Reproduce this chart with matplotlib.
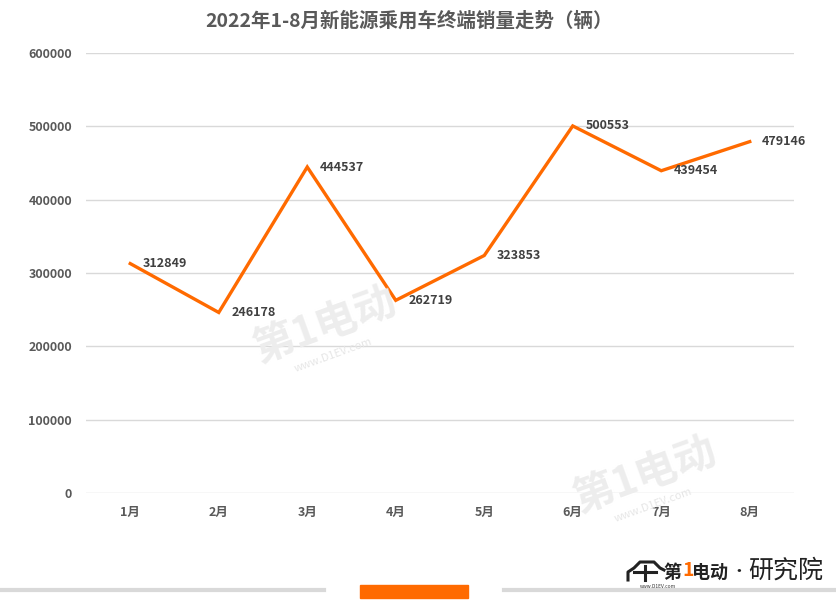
import matplotlib.pyplot as plt
from matplotlib.patches import Rectangle
from matplotlib.lines import Line2D

plt.rcParams["font.family"] = ["Noto Sans CJK SC", "DejaVu Sans"]

months = ["1月", "2月", "3月", "4月", "5月", "6月", "7月", "8月"]
sales = [312849, 246178, 444537, 262719, 323853, 500553, 439454, 479146]
y_ticks = [0, 100000, 200000, 300000, 400000, 500000, 600000]

TITLE = "2022年1-8月新能源乘用车终端销量走势（辆）"
ORANGE = "#FF6A00"
GRID = "#D9D9D9"
TICK_COLOR = "#595959"
LABEL_COLOR = "#404040"


def px(x, y):
    # pixel coords (top-left origin) -> figure fraction
    return x / 836, 1 - y / 604


def main():
    fig = plt.figure(figsize=(8.36, 6.04), dpi=100)
    ax = fig.add_axes([86 / 836, 111 / 604, 708 / 836, 440 / 604])

    x = list(range(len(months)))
    ax.plot(x, sales, color=ORANGE, linewidth=2.4, solid_joinstyle="miter", zorder=3)

    for i, value in enumerate(sales):
        ax.annotate(
            f"{value}",
            (i, value),
            xytext=(9, 0),
            textcoords="offset points",
            ha="left",
            va="center",
            fontsize=9,
            fontweight="bold",
            color=LABEL_COLOR,
            zorder=4,
        )

    ax.set_xlim(-0.5, len(months) - 0.5)
    ax.set_ylim(0, 600000)
    ax.set_yticks(y_ticks)
    ax.set_yticklabels([str(v) for v in y_ticks])
    ax.set_xticks(x)
    ax.set_xticklabels(months)
    ax.grid(axis="y", color=GRID, linewidth=1.0)
    ax.set_axisbelow(True)
    for spine in ax.spines.values():
        spine.set_visible(False)
    ax.tick_params(axis="both", length=0, labelsize=9, labelcolor=TICK_COLOR)
    ax.tick_params(axis="y", pad=10)
    ax.tick_params(axis="x", pad=9)
    for lbl in ax.get_xticklabels() + ax.get_yticklabels():
        lbl.set_fontweight("bold")

    fig.text(*px(409, 21), TITLE, ha="center", va="center",
             fontsize=14, fontweight="bold", color=TICK_COLOR)

    # faint watermarks
    for wx, wy in [(325, 325), (645, 475)]:
        fig.text(*px(wx, wy), "第1电动", ha="center", va="center", rotation=20,
                 fontsize=30, fontweight="bold", color="#EDEDED", zorder=0)
        fig.text(*px(wx + 8, wy + 30), "www.D1EV.com", ha="center", va="center",
                 rotation=20, fontsize=8, style="italic", color="#E6E6E6", zorder=0)

    # bottom decoration
    fig.add_artist(Line2D([0, 324 / 836], [1 - 590 / 604] * 2, color="#D9D9D9",
                          linewidth=3, transform=fig.transFigure))
    fig.add_artist(Line2D([504 / 836, 1], [1 - 590 / 604] * 2, color="#D9D9D9",
                          linewidth=3, transform=fig.transFigure))
    fig.add_artist(Rectangle(px(360, 598), 108 / 836, 13 / 604,
                             color=ORANGE, transform=fig.transFigure))

    # logo bottom right: little car outline + text
    car = [(628, 580), (628, 572), (634, 568), (640, 562), (654, 562),
           (660, 568), (664, 570)]
    cx = [p[0] / 836 for p in car]
    cy = [1 - p[1] / 604 for p in car]
    fig.add_artist(Line2D(cx, cy, color="#222222", linewidth=2.2,
                          transform=fig.transFigure))
    fig.add_artist(Line2D([634 / 836, 656 / 836], [1 - 572 / 604] * 2,
                          color="#222222", linewidth=2.2, transform=fig.transFigure))
    fig.add_artist(Line2D([645 / 836, 645 / 836], [1 - 566 / 604, 1 - 580 / 604],
                          color="#222222", linewidth=2.2, transform=fig.transFigure))
    fig.text(*px(640, 586), "www.D1EV.com", ha="left", va="center",
             fontsize=3.5, color="#333333")
    fig.text(*px(663, 572), "第", ha="left", va="center",
             fontsize=13, fontweight="bold", color="#222222")
    fig.text(*px(682, 571), "1", ha="left", va="center",
             fontsize=14, fontweight="bold", style="italic", color=ORANGE)
    fig.text(*px(692, 572), "电动", ha="left", va="center",
             fontsize=13, fontweight="bold", style="italic", color="#222222")
    fig.text(*px(739, 572), "•", ha="center", va="center",
             fontsize=12, color="#222222")
    fig.text(*px(748, 571), "研究院", ha="left", va="center",
             fontsize=18, fontweight="light", color="#222222")

    fig.savefig("out.png", dpi=100)
    plt.close(fig)


if __name__ == "__main__":
    main()
